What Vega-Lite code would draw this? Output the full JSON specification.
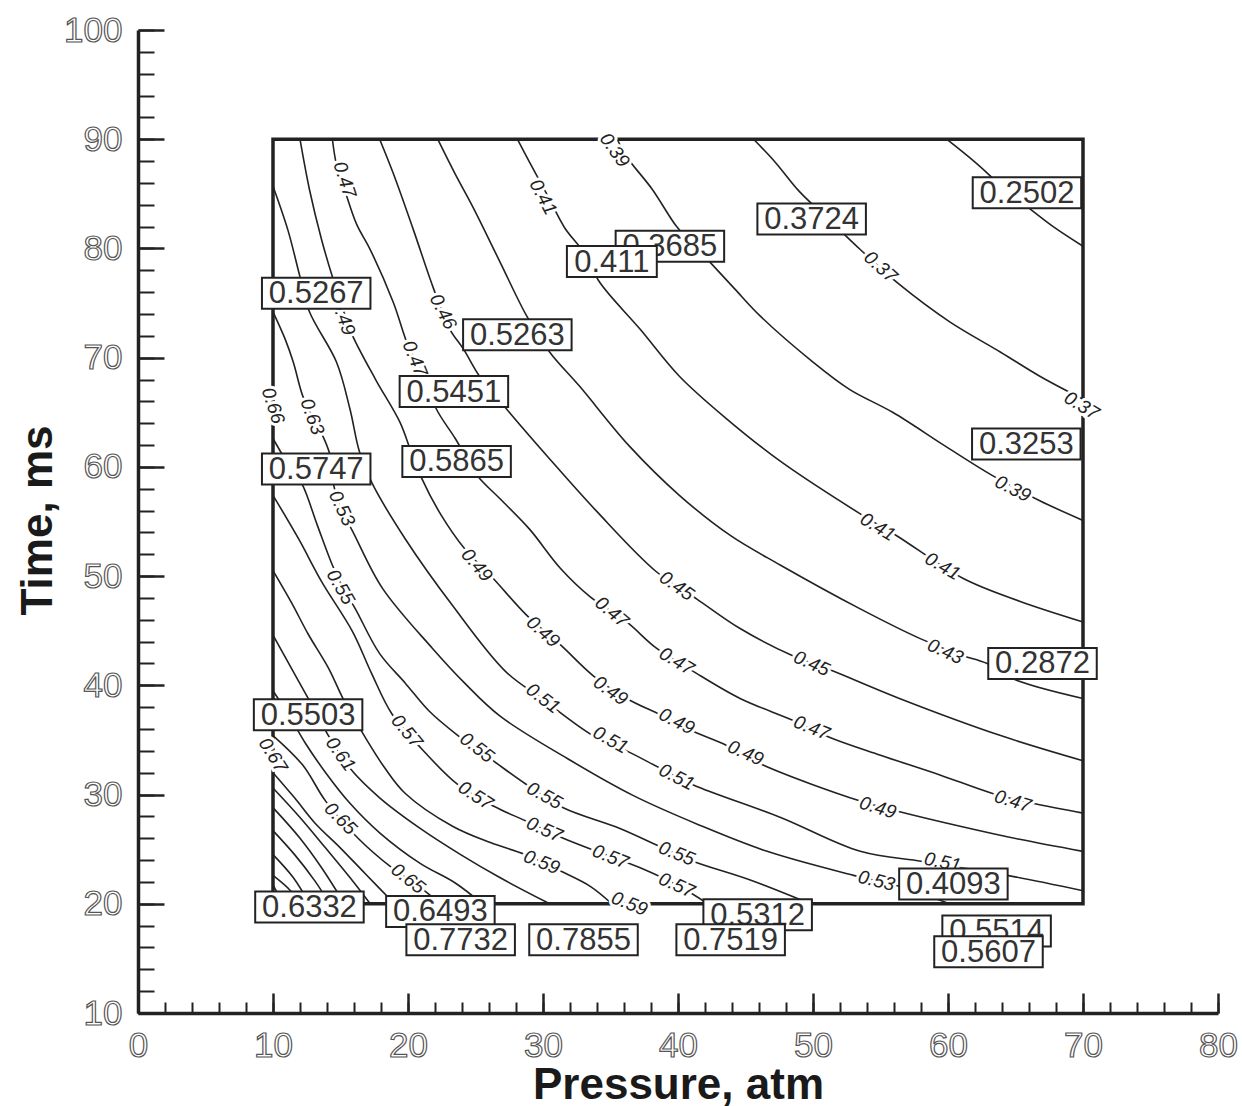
{
  "$schema": "https://vega.github.io/schema/vega-lite/v6.json",
  "width": 1080,
  "height": 983,
  "autosize": {"type": "none"},
  "padding": {"left": 138, "top": 30, "right": 24, "bottom": 93},
  "background": "white",
  "config": {
    "view": {"stroke": null},
    "axis": {"grid": false, "domainColor": "#222", "tickColor": "#222", "labelFont": "Liberation Sans", "titleFont": "Liberation Sans"}
  },
  "datasets": {
    "frame": [{"x1": 10, "x2": 70, "y1": 20, "y2": 90}],
    "lines": [
      {"id":"L1","x":59.9,"y":90},{"id":"L1","x":62.0,"y":87.9},{"id":"L1","x":63.9,"y":85.8},{"id":"L1","x":66.1,"y":83.6},{"id":"L1","x":67.9,"y":81.9},{"id":"L1","x":70,"y":80.2},
      {"id":"L2","x":45.6,"y":90},{"id":"L2","x":47.2,"y":87.9},{"id":"L2","x":49.0,"y":85.2},{"id":"L2","x":51.3,"y":82.5},{"id":"L2","x":53.5,"y":79.9},{"id":"L2","x":56.4,"y":76.7},{"id":"L2","x":60.1,"y":73.3},{"id":"L2","x":63.9,"y":70.5},{"id":"L2","x":66.8,"y":68.3},{"id":"L2","x":70,"y":66.2},
      {"id":"L3","x":35.5,"y":90},{"id":"L3","x":36.2,"y":88.4},{"id":"L3","x":38.1,"y":85.4},{"id":"L3","x":39.9,"y":82.0},{"id":"L3","x":41.1,"y":80.4},{"id":"L3","x":42.4,"y":78.7},{"id":"L3","x":44.2,"y":76.3},{"id":"L3","x":46.1,"y":73.8},{"id":"L3","x":50.0,"y":69.6},{"id":"L3","x":52.7,"y":67.1},{"id":"L3","x":55.9,"y":65.0},{"id":"L3","x":59.8,"y":61.9},{"id":"L3","x":63.3,"y":59.2},{"id":"L3","x":66.8,"y":56.9},{"id":"L3","x":70,"y":55.1},
      {"id":"L4","x":28.1,"y":90},{"id":"L4","x":29.0,"y":87.9},{"id":"L4","x":30.4,"y":84.7},{"id":"L4","x":31.6,"y":81.9},{"id":"L4","x":33.1,"y":79.5},{"id":"L4","x":34.2,"y":76.9},{"id":"L4","x":37.2,"y":72.6},{"id":"L4","x":40.1,"y":68.3},{"id":"L4","x":43.6,"y":64.4},{"id":"L4","x":47.6,"y":60.5},{"id":"L4","x":53.5,"y":55.7},{"id":"L4","x":56.2,"y":53.7},{"id":"L4","x":61.1,"y":49.8},{"id":"L4","x":65.3,"y":47.7},{"id":"L4","x":70,"y":45.8},
      {"id":"L5","x":22.2,"y":90},{"id":"L5","x":23.5,"y":86.8},{"id":"L5","x":24.8,"y":83.8},{"id":"L5","x":26.8,"y":78.8},{"id":"L5","x":28.8,"y":73.8},{"id":"L5","x":30.5,"y":70.5},{"id":"L5","x":32.7,"y":67.4},{"id":"L5","x":36.4,"y":61.9},{"id":"L5","x":40.1,"y":57.4},{"id":"L5","x":43.9,"y":53.7},{"id":"L5","x":47.6,"y":51.0},{"id":"L5","x":53.5,"y":47.0},{"id":"L5","x":57.9,"y":44.3},{"id":"L5","x":60.9,"y":42.8},{"id":"L5","x":62.9,"y":42.0},{"id":"L5","x":64.8,"y":40.6},{"id":"L5","x":70,"y":38.8},
      {"id":"L6","x":17.9,"y":90},{"id":"L6","x":18.9,"y":86.9},{"id":"L6","x":20.4,"y":81.7},{"id":"L6","x":21.9,"y":76.3},{"id":"L6","x":23.1,"y":72.6},{"id":"L6","x":24.1,"y":70.8},{"id":"L6","x":25.3,"y":68.3},{"id":"L6","x":26.4,"y":66.7},{"id":"L6","x":27.3,"y":65.3},{"id":"L6","x":30.3,"y":61.0},{"id":"L6","x":34.0,"y":55.9},{"id":"L6","x":38.4,"y":50.4},{"id":"L6","x":41.4,"y":47.9},{"id":"L6","x":44.6,"y":45.2},{"id":"L6","x":48.5,"y":42.7},{"id":"L6","x":51.3,"y":41.4},{"id":"L6","x":56.4,"y":38.8},{"id":"L6","x":63.9,"y":35.4},{"id":"L6","x":70,"y":33.1},
      {"id":"L7","x":14.4,"y":90},{"id":"L7","x":14.7,"y":87.7},{"id":"L7","x":15.3,"y":85.4},{"id":"L7","x":16.2,"y":82.2},{"id":"L7","x":17.2,"y":79.9},{"id":"L7","x":18.9,"y":75.1},{"id":"L7","x":20.1,"y":70.8},{"id":"L7","x":21.3,"y":68.0},{"id":"L7","x":22.1,"y":65.3},{"id":"L7","x":23.5,"y":62.6},{"id":"L7","x":24.4,"y":60.7},{"id":"L7","x":25.2,"y":59.1},{"id":"L7","x":26.8,"y":57.1},{"id":"L7","x":29.0,"y":54.3},{"id":"L7","x":31.3,"y":50.7},{"id":"L7","x":33.5,"y":48.1},{"id":"L7","x":36.2,"y":45.8},{"id":"L7","x":38.4,"y":43.4},{"id":"L7","x":41.1,"y":41.3},{"id":"L7","x":44.6,"y":38.8},{"id":"L7","x":48.5,"y":36.8},{"id":"L7","x":51.3,"y":35.2},{"id":"L7","x":55.0,"y":33.6},{"id":"L7","x":59.4,"y":31.8},{"id":"L7","x":63.3,"y":30.1},{"id":"L7","x":66.3,"y":29.2},{"id":"L7","x":70,"y":28.3},
      {"id":"L8","x":12.0,"y":90},{"id":"L8","x":12.7,"y":85.4},{"id":"L8","x":13.6,"y":80.8},{"id":"L8","x":14.4,"y":77.4},{"id":"L8","x":15.3,"y":74.0},{"id":"L8","x":15.9,"y":72.0},{"id":"L8","x":17.6,"y":68.0},{"id":"L8","x":19.4,"y":64.1},{"id":"L8","x":20.2,"y":61.5},{"id":"L8","x":21.0,"y":59.0},{"id":"L8","x":22.4,"y":55.7},{"id":"L8","x":24.2,"y":52.5},{"id":"L8","x":26.3,"y":49.8},{"id":"L8","x":28.8,"y":46.4},{"id":"L8","x":31.3,"y":43.7},{"id":"L8","x":33.7,"y":40.9},{"id":"L8","x":36.2,"y":38.8},{"id":"L8","x":38.7,"y":37.3},{"id":"L8","x":41.1,"y":35.8},{"id":"L8","x":43.6,"y":34.5},{"id":"L8","x":46.3,"y":32.7},{"id":"L8","x":53.5,"y":29.4},{"id":"L8","x":56.2,"y":28.5},{"id":"L8","x":60.9,"y":27.1},{"id":"L8","x":65.3,"y":25.9},{"id":"L8","x":70,"y":24.8},
      {"id":"G","x":10,"y":85.7},{"id":"G","x":11.1,"y":81.7},{"id":"G","x":12.0,"y":77.4},{"id":"G","x":12.7,"y":74.2},{"id":"G","x":14.7,"y":69.6},{"id":"G","x":15.7,"y":65.3},{"id":"G","x":16.4,"y":61.4},{"id":"G","x":17.3,"y":58.6},{"id":"G","x":19.8,"y":53.4},{"id":"G","x":23.3,"y":47.3},{"id":"G","x":27.2,"y":41.3},{"id":"G","x":29.9,"y":38.8},{"id":"G","x":33.7,"y":35.4},{"id":"G","x":36.2,"y":34.0},{"id":"G","x":38.7,"y":32.4},{"id":"G","x":41.1,"y":30.9},{"id":"G","x":47.6,"y":27.9},{"id":"G","x":53.5,"y":24.8},{"id":"G","x":58.0,"y":23.9},{"id":"G","x":61.0,"y":23.3},{"id":"G","x":64.4,"y":22.6},{"id":"G","x":70,"y":21.2},
      {"id":"B","x":10,"y":74.2},{"id":"B","x":10.9,"y":71.7},{"id":"B","x":11.5,"y":69.6},{"id":"B","x":12.2,"y":66.5},{"id":"B","x":12.9,"y":64.6},{"id":"B","x":13.7,"y":62.8},{"id":"B","x":14.2,"y":61.2},{"id":"B","x":14.4,"y":59.8},{"id":"B","x":14.5,"y":58.3},{"id":"B","x":15.0,"y":56.2},{"id":"B","x":15.9,"y":54.1},{"id":"B","x":18.1,"y":48.9},{"id":"B","x":21.8,"y":43.4},{"id":"B","x":24.2,"y":40.2},{"id":"B","x":26.8,"y":37.2},{"id":"B","x":31.8,"y":33.3},{"id":"B","x":36.7,"y":29.9},{"id":"B","x":41.6,"y":27.2},{"id":"B","x":46.6,"y":24.8},{"id":"B","x":53.0,"y":22.6},{"id":"B","x":56.4,"y":21.6},{"id":"B","x":60.1,"y":20},
      {"id":"C","x":10,"y":62.6},{"id":"C","x":10.9,"y":60.7},{"id":"C","x":11.6,"y":59.4},{"id":"C","x":12.2,"y":58.3},{"id":"C","x":13.3,"y":54.6},{"id":"C","x":14.4,"y":51.0},{"id":"C","x":15.2,"y":48.9},{"id":"C","x":16.1,"y":47.0},{"id":"C","x":17.9,"y":42.9},{"id":"C","x":19.8,"y":40.2},{"id":"C","x":21.6,"y":37.6},{"id":"C","x":23.7,"y":35.4},{"id":"C","x":26.3,"y":33.1},{"id":"C","x":28.8,"y":30.9},{"id":"C","x":31.5,"y":28.8},{"id":"C","x":35.7,"y":26.9},{"id":"C","x":38.9,"y":25.1},{"id":"C","x":41.1,"y":23.9},{"id":"C","x":45.3,"y":22.2},{"id":"C","x":49.8,"y":20},
      {"id":"D","x":10,"y":57.4},{"id":"D","x":11.9,"y":53.4},{"id":"D","x":13.6,"y":49.5},{"id":"D","x":15.9,"y":44.9},{"id":"D","x":17.3,"y":41.1},{"id":"D","x":18.8,"y":37.4},{"id":"D","x":21.0,"y":34.2},{"id":"D","x":23.7,"y":30.9},{"id":"D","x":26.4,"y":28.9},{"id":"D","x":28.7,"y":27.6},{"id":"D","x":31.5,"y":26.0},{"id":"D","x":34.2,"y":24.7},{"id":"D","x":37.2,"y":23.3},{"id":"D","x":40.1,"y":21.6},{"id":"D","x":42.2,"y":20},
      {"id":"E","x":10,"y":50.5},{"id":"E","x":11.4,"y":47.5},{"id":"E","x":12.6,"y":44.7},{"id":"E","x":14.1,"y":41.6},{"id":"E","x":15.3,"y":38.5},{"id":"E","x":16.8,"y":35.3},{"id":"E","x":18.3,"y":32.4},{"id":"E","x":19.8,"y":30.1},{"id":"E","x":23.3,"y":27.1},{"id":"E","x":26.1,"y":25.6},{"id":"E","x":28.7,"y":24.5},{"id":"E","x":31.3,"y":23.0},{"id":"E","x":33.5,"y":21.6},{"id":"E","x":35.1,"y":20},
      {"id":"F","x":10,"y":44.6},{"id":"F","x":11.8,"y":40.6},{"id":"F","x":13.1,"y":37.7},{"id":"F","x":14.2,"y":35.2},{"id":"F","x":15.7,"y":32.4},{"id":"F","x":17.9,"y":29.7},{"id":"F","x":20.9,"y":26.9},{"id":"F","x":23.9,"y":24.5},{"id":"F","x":26.8,"y":22.4},{"id":"F","x":30.5,"y":20},
      {"id":"H","x":10,"y":39.5},{"id":"H","x":11.3,"y":37.0},{"id":"H","x":12.4,"y":34.7},{"id":"H","x":13.9,"y":32.0},{"id":"H","x":15.7,"y":29.2},{"id":"H","x":17.9,"y":26.5},{"id":"H","x":20.9,"y":23.7},{"id":"H","x":23.5,"y":21.9},{"id":"H","x":25.5,"y":20},
      {"id":"I","x":10,"y":35.4},{"id":"I","x":12.2,"y":32.7},{"id":"I","x":13.9,"y":29.4},{"id":"I","x":16.3,"y":26.0},{"id":"I","x":18.8,"y":23.3},{"id":"I","x":20.9,"y":21.5},{"id":"I","x":22.4,"y":20},
      {"id":"J","x":10,"y":32.0},{"id":"J","x":11.6,"y":29.7},{"id":"J","x":13.1,"y":27.4},{"id":"J","x":15.0,"y":25.1},{"id":"J","x":16.8,"y":22.8},{"id":"J","x":19.0,"y":20},
      {"id":"K","x":10,"y":30.6},{"id":"K","x":12.0,"y":27.9},{"id":"K","x":13.9,"y":25.1},{"id":"K","x":15.7,"y":22.4},{"id":"K","x":17.2,"y":20},
      {"id":"M","x":10,"y":28.8},{"id":"M","x":12.0,"y":26.0},{"id":"M","x":13.6,"y":23.3},{"id":"M","x":15.3,"y":20},
      {"id":"N","x":10,"y":26.7},{"id":"N","x":11.6,"y":24.5},{"id":"N","x":13.1,"y":22.1},{"id":"N","x":14.2,"y":20},
      {"id":"O","x":10,"y":24.5},{"id":"O","x":11.5,"y":22.4},{"id":"O","x":12.7,"y":20},
      {"id":"P","x":10,"y":22.6},{"id":"P","x":11.3,"y":21.2},{"id":"P","x":12.0,"y":20},
      {"id":"Q","x":10,"y":21.7},{"id":"Q","x":10.8,"y":20}
    ],
    "labels": [
      {"x":55.0,"y":78.3,"t":"0.37","a":42},{"x":69.9,"y":65.6,"t":"0.37","a":31},{"x":35.3,"y":89.0,"t":"0.39","a":55},{"x":64.8,"y":58.0,"t":"0.39","a":27},
      {"x":30.0,"y":84.7,"t":"0.41","a":62},{"x":54.8,"y":54.5,"t":"0.41","a":31},{"x":59.6,"y":50.9,"t":"0.41","a":30},{"x":59.8,"y":43.1,"t":"0.43","a":24},
      {"x":22.6,"y":74.2,"t":"0.46","a":63},{"x":15.3,"y":86.3,"t":"0.47","a":72},{"x":20.5,"y":69.9,"t":"0.47","a":68},{"x":39.9,"y":49.1,"t":"0.45","a":35},
      {"x":49.9,"y":42.0,"t":"0.45","a":24},{"x":35.1,"y":46.7,"t":"0.47","a":40},{"x":39.9,"y":42.2,"t":"0.47","a":31},{"x":49.9,"y":36.1,"t":"0.47","a":22},
      {"x":64.8,"y":29.4,"t":"0.47","a":17},{"x":15.2,"y":73.7,"t":"0.49","a":70},{"x":25.1,"y":51.0,"t":"0.49","a":50},{"x":30.0,"y":44.9,"t":"0.49","a":42},
      {"x":35.0,"y":39.5,"t":"0.49","a":35},{"x":39.9,"y":36.7,"t":"0.49","a":27},{"x":45.0,"y":33.8,"t":"0.49","a":24},{"x":54.8,"y":28.8,"t":"0.49","a":17},
      {"x":30.0,"y":38.8,"t":"0.51","a":37},{"x":35.0,"y":35.0,"t":"0.51","a":29},{"x":39.9,"y":31.6,"t":"0.51","a":27},{"x":59.6,"y":23.8,"t":"0.51","a":12},
      {"x":15.1,"y":56.2,"t":"0.53","a":65},{"x":54.7,"y":22.1,"t":"0.53","a":14},{"x":15.0,"y":49.0,"t":"0.55","a":60},{"x":25.1,"y":34.3,"t":"0.55","a":37},
      {"x":30.1,"y":29.9,"t":"0.55","a":29},{"x":39.9,"y":24.6,"t":"0.55","a":22},{"x":19.9,"y":35.8,"t":"0.57","a":50},{"x":25.0,"y":29.9,"t":"0.57","a":33},
      {"x":30.1,"y":26.8,"t":"0.57","a":24},{"x":35.0,"y":24.3,"t":"0.57","a":22},{"x":39.9,"y":21.7,"t":"0.57","a":24},{"x":29.9,"y":23.8,"t":"0.59","a":22},
      {"x":36.4,"y":20.0,"t":"0.59","a":22},{"x":15.0,"y":33.7,"t":"0.61","a":55},{"x":15.0,"y":27.8,"t":"0.65","a":45},{"x":20.0,"y":22.3,"t":"0.65","a":38},
      {"x":10.0,"y":33.6,"t":"0.67","a":58},{"x":10.0,"y":65.6,"t":"0.66","a":72},{"x":12.9,"y":64.6,"t":"0.63","a":70}
    ],
    "boxes": [
      {"x":65.85,"y":85.1,"t":"0.2502"},{"x":49.9,"y":82.7,"t":"0.3724"},{"x":39.4,"y":80.2,"t":"0.3685"},{"x":35.1,"y":78.8,"t":"0.411"},
      {"x":28.1,"y":72.1,"t":"0.5263"},{"x":23.4,"y":66.9,"t":"0.5451"},{"x":23.6,"y":60.5,"t":"0.5865"},{"x":13.2,"y":75.9,"t":"0.5267"},
      {"x":13.2,"y":59.8,"t":"0.5747"},{"x":12.6,"y":37.3,"t":"0.5503"},{"x":12.7,"y":19.7,"t":"0.6332"},{"x":22.4,"y":19.3,"t":"0.6493"},
      {"x":23.9,"y":16.7,"t":"0.7732"},{"x":33.0,"y":16.7,"t":"0.7855"},{"x":45.9,"y":19.0,"t":"0.5312"},{"x":43.9,"y":16.7,"t":"0.7519"},
      {"x":60.4,"y":21.8,"t":"0.4093"},{"x":63.6,"y":17.5,"t":"0.5514"},{"x":63.0,"y":15.6,"t":"0.5607"},{"x":65.8,"y":62.1,"t":"0.3253"},
      {"x":67.0,"y":42.0,"t":"0.2872"}
    ]
  },
  "layer": [
    {
      "data": {"name": "frame"},
      "mark": {"type": "rect", "fillOpacity": 0, "stroke": "#222", "strokeWidth": 3.5},
      "encoding": {
        "x": {"field": "x1", "type": "quantitative", "scale": {"domain": [0, 80], "nice": false, "zero": false},
              "axis": {"orient": "bottom", "values": [0,2,4,6,8,10,12,14,16,18,20,22,24,26,28,30,32,34,36,38,40,42,44,46,48,50,52,54,56,58,60,62,64,66,68,70,72,74,76,78,80], "tickSize": -11, "tickWidth": 2, "labels": false, "domain": false, "title": null}},
        "x2": {"field": "x2"},
        "y": {"field": "y1", "type": "quantitative", "scale": {"domain": [10, 100], "nice": false, "zero": false},
              "axis": {"orient": "left", "values": [10,12,14,16,18,20,22,24,26,28,30,32,34,36,38,40,42,44,46,48,50,52,54,56,58,60,62,64,66,68,70,72,74,76,78,80,82,84,86,88,90,92,94,96,98,100], "tickSize": -16, "tickWidth": 2, "labels": false, "domain": false, "title": null}},
        "y2": {"field": "y2"}
      }
    },
    {
      "data": {"name": "lines"},
      "mark": {"type": "line", "interpolate": "catmull-rom", "stroke": "#222", "strokeWidth": 1.6},
      "encoding": {
        "x": {"field": "x", "type": "quantitative", "scale": {"domain": [0, 80], "nice": false, "zero": false},
              "axis": {"orient": "bottom", "values": [0,10,20,30,40,50,60,70,80], "tickSize": -20, "tickWidth": 2.5, "domainWidth": 3.5, "labelPadding": 35, "labelFontSize": 35, "labelColor": "#555", "labelFlush": false, "labelOverlap": false,
                       "title": "Pressure, atm", "titleFontSize": 44, "titleFontWeight": "bold", "titleColor": "#1a1a1a", "titleY": 72, "titleBaseline": "middle",
                       "encoding": {"labels": {"fill": {"value": "white"}, "stroke": {"value": "#555"}, "strokeWidth": {"value": 1.2}}}}},
        "y": {"field": "y", "type": "quantitative", "scale": {"domain": [10, 100], "nice": false, "zero": false},
              "axis": {"orient": "left", "values": [10,20,30,40,50,60,70,80,90,100], "tickSize": -26, "tickWidth": 2.5, "domainWidth": 3.5, "labelPadding": 42, "labelFontSize": 35, "labelColor": "#555", "labelFlush": false, "labelOverlap": false,
                       "title": "Time, ms", "titleFontSize": 44, "titleFontWeight": "bold", "titleColor": "#1a1a1a", "titleX": -100, "titleY": 490, "titleBaseline": "middle",
                       "encoding": {"labels": {"fill": {"value": "white"}, "stroke": {"value": "#555"}, "strokeWidth": {"value": 1.2}}}}},
        "detail": {"field": "id"},
        "order": {"value": null}
      }
    },
    {
      "data": {"name": "labels"},
      "mark": {"type": "text", "font": "Liberation Sans", "fontSize": 19, "fontStyle": "italic", "align": "center", "baseline": "middle", "stroke": "white", "strokeWidth": 6, "fill": "white"},
      "encoding": {
        "x": {"field": "x", "type": "quantitative", "axis": null},
        "y": {"field": "y", "type": "quantitative", "axis": null},
        "angle": {"field": "a", "type": "quantitative", "scale": null},
        "text": {"field": "t"}
      }
    },
    {
      "data": {"name": "labels"},
      "mark": {"type": "text", "font": "Liberation Sans", "fontSize": 19, "fontStyle": "italic", "align": "center", "baseline": "middle", "fill": "#222"},
      "encoding": {
        "x": {"field": "x", "type": "quantitative", "axis": null},
        "y": {"field": "y", "type": "quantitative", "axis": null},
        "angle": {"field": "a", "type": "quantitative", "scale": null},
        "text": {"field": "t"}
      }
    },
    {
      "data": {"name": "boxes"},
      "transform": [{"filter": "indexof(['0.411','0.7732','0.7519','0.5607'], datum.t) < 0"}],
      "mark": {"type": "point", "shape": "M-3.5,-1H3.5V1H-3.5Z", "size": 961, "filled": true, "fill": "white", "stroke": "#222", "strokeWidth": 2, "opacity": 1},
      "encoding": {
        "x": {"field": "x", "type": "quantitative", "axis": null},
        "y": {"field": "y", "type": "quantitative", "axis": null}
      }
    },
    {
      "data": {"name": "boxes"},
      "transform": [{"filter": "indexof(['0.411','0.7732','0.7519','0.5607'], datum.t) < 0"}],
      "mark": {"type": "text", "font": "Liberation Sans", "fontSize": 31, "align": "center", "baseline": "middle", "dy": 1, "fill": "#333"},
      "encoding": {
        "x": {"field": "x", "type": "quantitative", "axis": null},
        "y": {"field": "y", "type": "quantitative", "axis": null},
        "text": {"field": "t"}
      }
    },
    {
      "data": {"name": "boxes"},
      "transform": [{"filter": "indexof(['0.7732','0.7519','0.5607'], datum.t) >= 0"}],
      "mark": {"type": "point", "shape": "M-3.5,-1H3.5V1H-3.5Z", "size": 961, "filled": true, "fill": "white", "stroke": "#222", "strokeWidth": 2, "opacity": 1},
      "encoding": {
        "x": {"field": "x", "type": "quantitative", "axis": null},
        "y": {"field": "y", "type": "quantitative", "axis": null}
      }
    },
    {
      "data": {"name": "boxes"},
      "transform": [{"filter": "datum.t == '0.411'"}],
      "mark": {"type": "point", "shape": "M-2.9,-1H2.9V1H-2.9Z", "size": 961, "filled": true, "fill": "white", "stroke": "#222", "strokeWidth": 2, "opacity": 1},
      "encoding": {
        "x": {"field": "x", "type": "quantitative", "axis": null},
        "y": {"field": "y", "type": "quantitative", "axis": null}
      }
    },
    {
      "data": {"name": "boxes"},
      "transform": [{"filter": "indexof(['0.411','0.7732','0.7519','0.5607'], datum.t) >= 0"}],
      "mark": {"type": "text", "font": "Liberation Sans", "fontSize": 31, "align": "center", "baseline": "middle", "dy": 1, "fill": "#333"},
      "encoding": {
        "x": {"field": "x", "type": "quantitative", "axis": null},
        "y": {"field": "y", "type": "quantitative", "axis": null},
        "text": {"field": "t"}
      }
    }
  ],
  "resolve": {"axis": {"x": "independent", "y": "independent"}}
}
